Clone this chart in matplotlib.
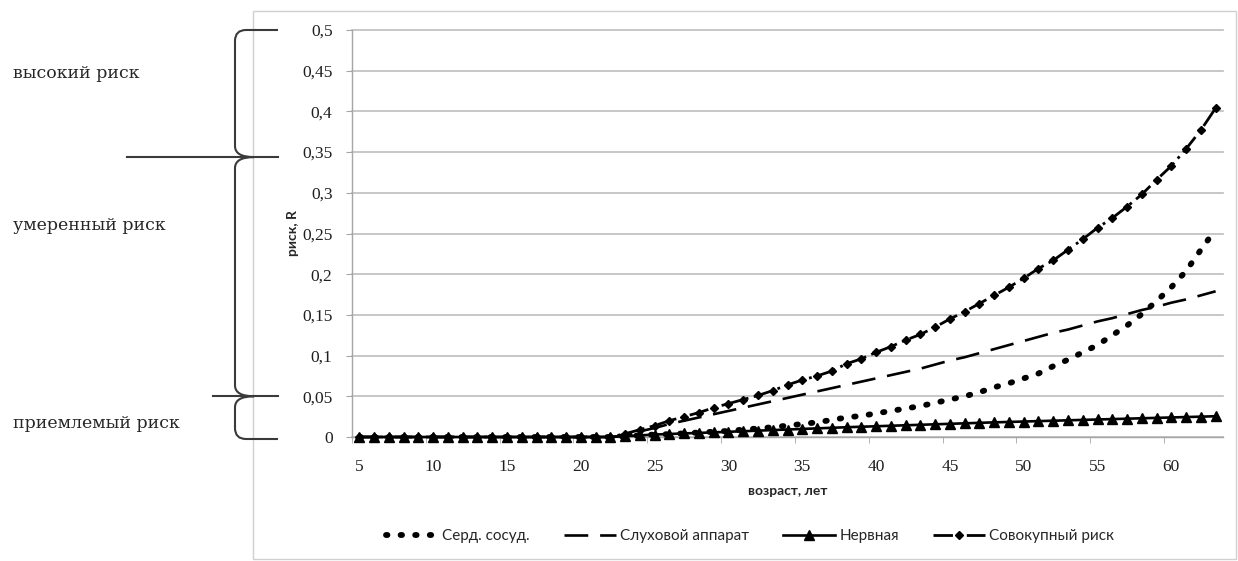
import matplotlib
matplotlib.use("Agg")
import matplotlib.pyplot as plt
from matplotlib.path import Path
from matplotlib.patches import PathPatch, Rectangle

# ---------------- data ----------------
ages = list(range(5, 64))
zeros = [0.0] * 18  # ages 5..22

cardio = zeros + [0.001, 0.002, 0.003, 0.0035, 0.0045, 0.0055, 0.0065, 0.0075, 0.009, 0.0105,
                  0.012, 0.014, 0.016, 0.018, 0.021, 0.024, 0.026, 0.029, 0.032, 0.035,
                  0.038, 0.042, 0.046, 0.050, 0.055, 0.061, 0.066, 0.072, 0.078, 0.087,
                  0.095, 0.104, 0.113, 0.125, 0.137, 0.151, 0.167, 0.184, 0.204, 0.230,
                  0.255]
hearing = zeros + [0.002, 0.007, 0.011, 0.016, 0.020, 0.024, 0.028, 0.032, 0.036, 0.040,
                   0.044, 0.048, 0.052, 0.056, 0.060, 0.064, 0.068, 0.072, 0.076, 0.080,
                   0.084, 0.089, 0.094, 0.098, 0.103, 0.108, 0.113, 0.118, 0.123, 0.128,
                   0.132, 0.137, 0.142, 0.146, 0.151, 0.156, 0.160, 0.165, 0.169, 0.174,
                   0.179]
nervous = zeros + [0.001, 0.002, 0.003, 0.0037, 0.0044, 0.005, 0.0057, 0.0064, 0.0071, 0.0078,
                   0.0085, 0.0092, 0.0099, 0.0106, 0.0113, 0.012, 0.0126, 0.0132, 0.0138, 0.0144,
                   0.015, 0.0156, 0.0162, 0.0168, 0.0174, 0.018, 0.0185, 0.019, 0.0195, 0.020,
                   0.0205, 0.021, 0.0215, 0.022, 0.0225, 0.023, 0.0235, 0.024, 0.0245, 0.025,
                   0.0255]
total = zeros + [0.004, 0.009, 0.014, 0.020, 0.025, 0.030, 0.036, 0.041, 0.046, 0.051,
                 0.057, 0.064, 0.070, 0.075, 0.081, 0.090, 0.096, 0.104, 0.111, 0.119,
                 0.126, 0.135, 0.145, 0.154, 0.164, 0.174, 0.184, 0.195, 0.207, 0.217,
                 0.230, 0.243, 0.257, 0.269, 0.283, 0.298, 0.316, 0.333, 0.354, 0.377,
                 0.404]

series_names = ["Серд. сосуд.", "Слуховой аппарат", "Нервная", "Совокупный риск"]
x_tick_values = [5, 10, 15, 20, 25, 30, 35, 40, 45, 50, 55, 60]
y_tick_values = [0, 0.05, 0.1, 0.15, 0.2, 0.25, 0.3, 0.35, 0.4, 0.45, 0.5]
y_tick_labels = ["0", "0,05", "0,1", "0,15", "0,2", "0,25", "0,3", "0,35", "0,4", "0,45", "0,5"]
x_title = "возраст, лет"
y_title = "риск, R"
zone_bounds = [0.5, 0.35, 0.05, 0.0]
zone_labels = ["высокий риск", "умеренный риск", "приемлемый риск"]

# ---------------- figure ----------------
W, H = 1238, 561
fig = plt.figure(figsize=(W / 100, H / 100), dpi=100)
fig.patch.set_facecolor("white")

ov = fig.add_axes([0, 0, 1, 1], zorder=0)
ov.set_xlim(0, W)
ov.set_ylim(H, 0)
ov.axis("off")
ov.add_patch(Rectangle((253, 11), 983, 548, fill=False, ec="#d0d0d0", lw=1.0))

ax = fig.add_axes([352 / W, 1 - 437 / H, (1223 - 352) / W, (437 - 30) / H], zorder=2)
ax.patch.set_alpha(0)

grid_c = "#bdbdbd"
for v in y_tick_values:
    ax.axhline(v, color=grid_c, lw=1.2, zorder=1, clip_on=False)

ax.plot(ages, cardio, color="black", lw=4.2, linestyle=(0, (0.25, 2.25)),
        dash_capstyle="round", solid_capstyle="round", label=series_names[0],
        zorder=4, clip_on=False)
ax.plot(ages, hearing, color="black", lw=1.9, linestyle=(0, (9, 4.5)),
        label=series_names[1], zorder=4, clip_on=False)
ax.plot(ages, nervous, color="black", lw=1.9, marker="^", markersize=6.5,
        label=series_names[2], zorder=5, clip_on=False)
ax.plot(ages, total, color="black", lw=2.0, linestyle=(0, (7, 2, 1, 2)),
        marker="D", markersize=3.8, label=series_names[3], zorder=5, clip_on=False)

ax.set_xlim(4.5, 63.5)
ax.set_ylim(0, 0.5)
for s in ["top", "right"]:
    ax.spines[s].set_visible(False)
for s in ["left", "bottom"]:
    ax.spines[s].set_color("#a6a6a6")
    ax.spines[s].set_linewidth(1.0)

tick_font = dict(fontfamily="Liberation Serif", fontsize=12.5, color="#1f1f1f")
ax.set_xticks(x_tick_values)
ax.set_xticklabels([str(v) for v in x_tick_values], **tick_font)
ax.set_xticks([v - 0.5 for v in x_tick_values], minor=True)
ax.tick_params(axis="x", which="major", length=0, pad=16)
ax.tick_params(axis="x", which="minor", length=4, color="#a6a6a6", direction="out")

ax.set_yticks(y_tick_values)
ax.set_yticklabels(y_tick_labels, **tick_font)
ax.tick_params(axis="y", length=4, color="#a6a6a6", direction="out", pad=10)

ax.set_xlabel(x_title, fontfamily="Lato", fontweight="bold", fontsize=10, color="#262626",
              labelpad=7)
ax.set_ylabel(y_title, fontfamily="Lato", fontweight="bold", fontsize=10, color="#262626",
              labelpad=2)

fig.legend(loc="center", bbox_to_anchor=(750 / W, 1 - 536 / H), ncol=4, frameon=False,
           prop={"family": "Lato", "size": 11}, labelcolor="#262626",
           handlelength=3.4, handletextpad=0.3, columnspacing=2.2, numpoints=1)

# ---------------- risk zone braces ----------------
fig.canvas.draw()

def ypix(v):
    return H - ax.transData.transform((ages[0], v))[1]

xv, xe, xt = 235, 278, 254
r = 11
line_kw = dict(fc="none", ec="#3a3a3a", lw=1.5, zorder=3)

def brace(y_top, y_bot, top_arm, bot_arm):
    verts, codes = [], []
    if top_arm:
        verts += [(xe, y_top), (xv + r, y_top), (xv, y_top), (xv, y_top + r)]
        codes += [Path.MOVETO, Path.LINETO, Path.CURVE3, Path.CURVE3]
    else:
        verts += [(xt, y_top), (xv, y_top), (xv, y_top + r)]
        codes += [Path.MOVETO, Path.CURVE3, Path.CURVE3]
    verts += [(xv, y_bot - r)]
    codes += [Path.LINETO]
    if bot_arm:
        verts += [(xv, y_bot), (xv + r, y_bot), (xe, y_bot)]
        codes += [Path.CURVE3, Path.CURVE3, Path.LINETO]
    else:
        verts += [(xv, y_bot), (xt, y_bot)]
        codes += [Path.CURVE3, Path.CURVE3]
    ov.add_patch(PathPatch(Path(verts, codes), **line_kw))

yb = [ypix(v) for v in zone_bounds]
brace(yb[0], yb[1] + 5, True, False)
brace(yb[1] + 5, yb[2], False, False)
brace(yb[2], yb[3] + 2, False, True)
ov.plot([127, xe], [yb[1] + 5, yb[1] + 5], color="#3a3a3a", lw=1.5)
ov.plot([213, xe], [yb[2], yb[2]], color="#3a3a3a", lw=1.5)

label_y = [73, 225, 423]
for txt, yy in zip(zone_labels, label_y):
    ov.text(13, yy, txt, fontfamily="DejaVu Serif", fontsize=12.5, color="#262626",
            va="center", ha="left")

fig.savefig("out.png", dpi=100, facecolor="white")
